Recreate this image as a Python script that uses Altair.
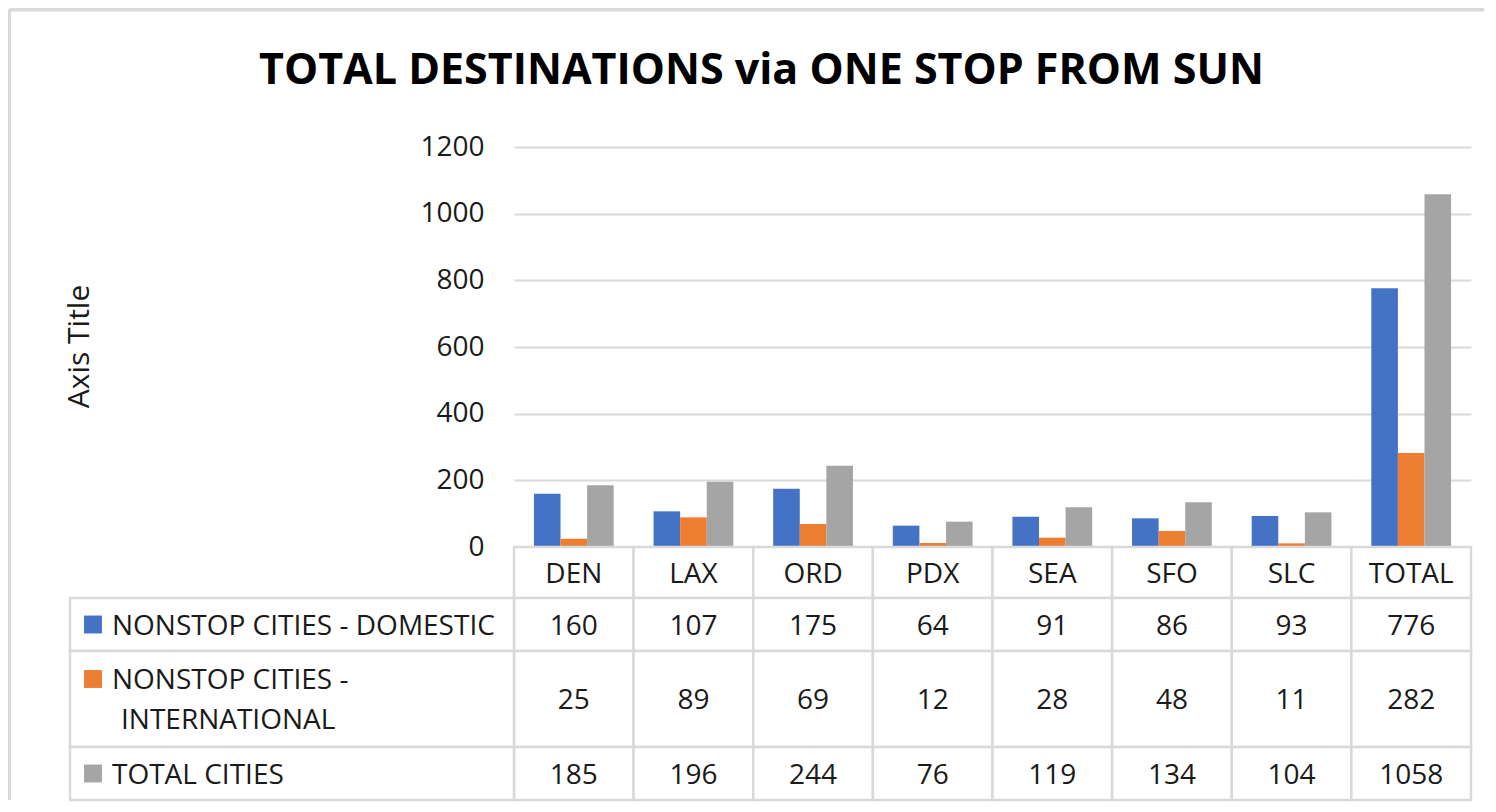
import altair as alt
import pandas as pd

# ---------------- data ----------------
categories = ["DEN", "LAX", "ORD", "PDX", "SEA", "SFO", "SLC", "TOTAL"]
series_names = ["NONSTOP CITIES - DOMESTIC", "NONSTOP CITIES - INTERNATIONAL", "TOTAL CITIES"]
domestic = [160, 107, 175, 64, 91, 86, 93, 776]
international = [25, 89, 69, 12, 28, 48, 11, 282]
total_cities = [185, 196, 244, 76, 119, 134, 104, 1058]
y_ticks = [0, 200, 400, 600, 800, 1000, 1200]
legend_lines = [["NONSTOP CITIES - DOMESTIC"], ["NONSTOP CITIES -", "INTERNATIONAL"], ["TOTAL CITIES"]]
series_colors = ["#4472C4", "#ED7D31", "#A5A5A5"]

# ---------------- layout / style constants ----------------
FONT = "Open Sans"
TXT = "#1a1a1a"
GRID = "#d9d9d9"
PLOT_W, PLOT_H = 957, 400
ROW_H = [51, 53, 96, 53]          # header row + one row per series
LEGEND_W = 444
LINE_GAP = 40
TABLE_H = sum(ROW_H)

values_by_series = [domestic, international, total_cities]

# bar data
bar_rows = []
for s, vals in zip(series_names, values_by_series):
    for c, v in zip(categories, vals):
        bar_rows.append({"cat": c, "series": s, "value": v})
bar_df = pd.DataFrame(bar_rows)

# table rows
tops = [sum(ROW_H[:i]) for i in range(len(ROW_H))]
bots = [t + h for t, h in zip(tops, ROW_H)]
mids = [(t + b) / 2 for t, b in zip(tops, bots)]

cell_rows = []
for j, c in enumerate(categories):
    cell_rows.append({"cat": c, "top": tops[0], "bot": bots[0], "mid": mids[0], "text": c})
    for i, vals in enumerate(values_by_series):
        r = i + 1
        cell_rows.append({"cat": c, "top": tops[r], "bot": bots[r], "mid": mids[r], "text": str(vals[j])})
cell_df = pd.DataFrame(cell_rows)

leg_rows, sq_rows, lab_rows = [], [], []
for i, s in enumerate(series_names):
    r = i + 1
    leg_rows.append({"series": s, "top": tops[r], "bot": bots[r]})
    lines = legend_lines[i]
    first_y = mids[r] - (len(lines) - 1) * LINE_GAP / 2
    sq_rows.append({"series": s, "y": first_y})
    for k, ln in enumerate(lines):
        lab_rows.append({"line": ln, "y": first_y + k * LINE_GAP, "cont": k > 0})
leg_df = pd.DataFrame(leg_rows)
sq_df = pd.DataFrame(sq_rows)
lab_df = pd.DataFrame(lab_rows)

color_scale = alt.Scale(domain=series_names, range=series_colors)

# ---------------- bar chart ----------------
bars = alt.Chart(bar_df).mark_bar().encode(
    x=alt.X("cat:N", sort=categories, axis=None,
            scale=alt.Scale(paddingInner=1 / 3, paddingOuter=1 / 6)),
    xOffset=alt.XOffset("series:N", sort=series_names,
                        scale=alt.Scale(paddingInner=0, paddingOuter=0)),
    y=alt.Y("value:Q", scale=alt.Scale(domain=[0, 1200], nice=False),
            axis=alt.Axis(values=y_ticks, format="d", title="Axis Title", grid=True,
                          gridColor=GRID, gridWidth=2, domain=False, ticks=False,
                          labelPadding=30, labelFont=FONT, labelFontSize=28,
                          labelColor=TXT, labelFlush=False,
                          titleFont=FONT, titleFontSize=30, titleFontWeight="normal",
                          titleColor=TXT, titleX=-426, titleY=199, titleAngle=270,
                          titleAlign="center", titleBaseline="alphabetic")),
    color=alt.Color("series:N", scale=color_scale, legend=None),
).properties(
    width=PLOT_W, height=PLOT_H,
    title=alt.Title("TOTAL DESTINATIONS via ONE STOP FROM SUN", font=FONT,
                    fontSize=43, fontWeight="bold", color="#000000",
                    anchor="middle", frame="group", dx=-231, offset=40),
)

# ---------------- data table ----------------
yscale = alt.Scale(domain=[0, TABLE_H], reverse=True, nice=False, zero=False)
xcell = alt.X("cat:N", sort=categories, axis=None,
              scale=alt.Scale(paddingInner=0, paddingOuter=0))

cells = alt.Chart(cell_df).mark_rect(fill="white", stroke=GRID, strokeWidth=2.5).encode(
    x=xcell, y=alt.Y("top:Q", scale=yscale, axis=None), y2="bot:Q")

leg_cells = alt.Chart(leg_df).mark_rect(fill="white", stroke=GRID, strokeWidth=2.5).encode(
    x=alt.value(-LEGEND_W), x2=alt.value(0),
    y=alt.Y("top:Q", scale=yscale, axis=None), y2="bot:Q")

cell_text = alt.Chart(cell_df).mark_text(font=FONT, fontSize=28, color=TXT,
                                         baseline="middle", dy=2).encode(
    x=xcell, y=alt.Y("mid:Q", scale=yscale, axis=None), text="text:N")

squares = alt.Chart(sq_df).mark_square(size=320, opacity=1).encode(
    x=alt.value(-LEGEND_W + 23), y=alt.Y("y:Q", scale=yscale, axis=None),
    color=alt.Color("series:N", scale=color_scale, legend=None))

lab_first = alt.Chart(lab_df).transform_filter("!datum.cont").mark_text(
    font=FONT, fontSize=28, color=TXT, align="left", baseline="middle", dy=2).encode(
    x=alt.value(-LEGEND_W + 42), y=alt.Y("y:Q", scale=yscale, axis=None), text="line:N")

lab_cont = alt.Chart(lab_df).transform_filter("datum.cont").mark_text(
    font=FONT, fontSize=28, color=TXT, align="left", baseline="middle", dy=2).encode(
    x=alt.value(-LEGEND_W + 51), y=alt.Y("y:Q", scale=yscale, axis=None), text="line:N")

frame_top = alt.Chart(leg_df).mark_rule(color="#d9d9d9", strokeWidth=3).encode(
    x=alt.value(-504.5), x2=alt.value(970), y=alt.value(-537.2))
frame_left = alt.Chart(leg_df).mark_rule(color="#d9d9d9", strokeWidth=3).encode(
    x=alt.value(-504.5), y=alt.value(-537.2), y2=alt.value(TABLE_H))

table = alt.layer(frame_top, frame_left, cells, leg_cells, cell_text, squares,
                  lab_first, lab_cont).properties(width=PLOT_W, height=TABLE_H)

chart = alt.vconcat(bars, table, spacing=0, bounds="flush").properties(
    padding={"left": 0, "top": 0, "right": 0, "bottom": 0},
    background="white",
).configure_view(stroke=None)

chart.save("out.html", embed_options={"renderer": "svg", "actions": False})
